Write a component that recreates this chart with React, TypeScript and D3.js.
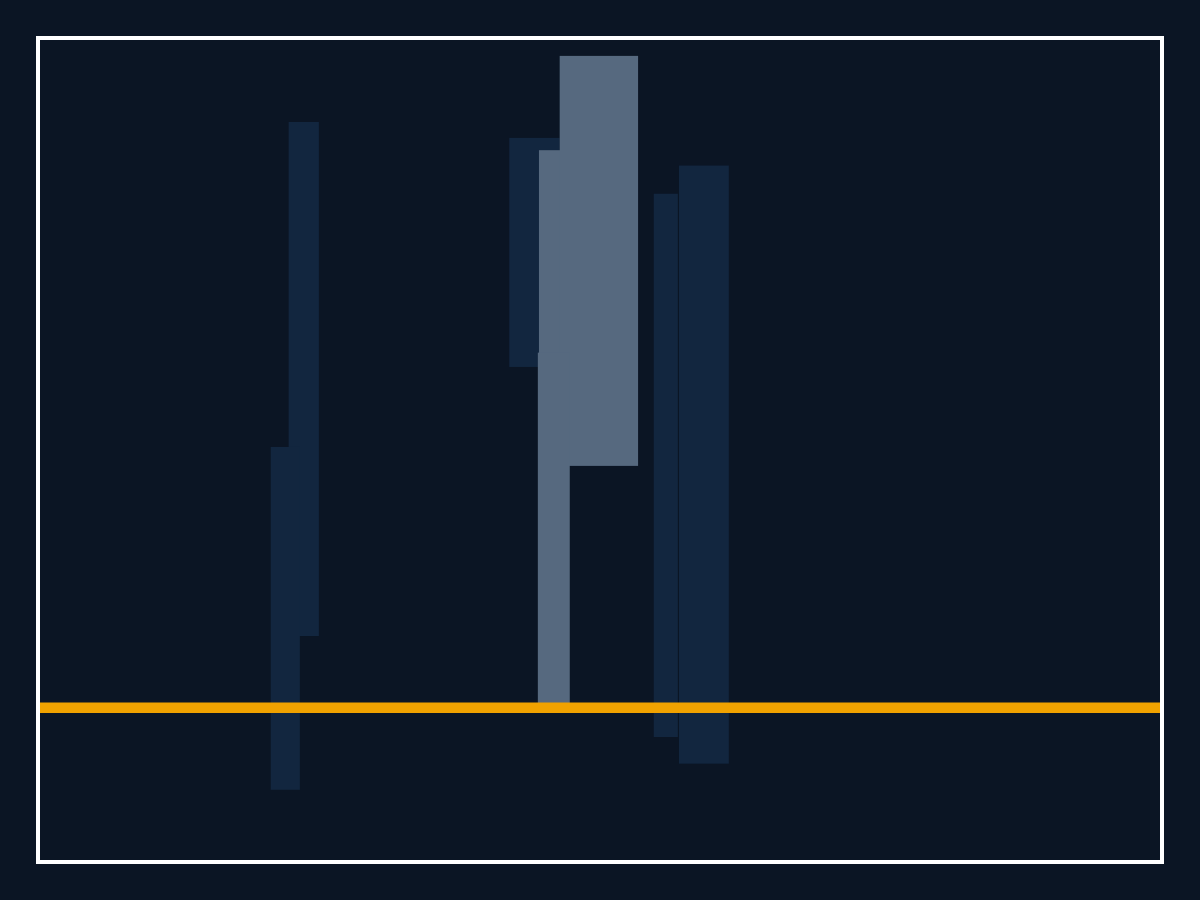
import React, { useEffect, useRef } from 'react';
import * as d3 from 'd3';

// floating range bars: x from/to, value low/high, series
const barIds = ['A', 'B', 'C', 'D', 'E', 'F', 'G', 'H'];
const barSeries = ['base', 'base', 'base', 'highlight', 'highlight', 'highlight', 'base', 'base'];
const xStart = [22.2, 20.6, 41.9, 44.55, 46.4, 44.45, 54.8, 57.05];
const xEnd = [24.9, 23.2, 46.4, 48.0, 53.4, 47.3, 56.95, 61.5];
const lowValues = [13.7, -16.3, 66.2, 50.0, 46.9, 0, -6.0, -11.2];
const highValues = [114.0, 50.6, 110.9, 108.5, 126.9, 69.0, 100.0, 105.5];
const referenceValue = 0;

const App: React.FC = () => {
  const svgRef = useRef<SVGSVGElement | null>(null);

  useEffect(() => {
    document.body.style.margin = '0';
    document.body.style.background = '#0b1524';

    const width = 1200;
    const height = 900;
    const frame = { left: 38, top: 38, right: 1162, bottom: 862 };

    const svg = d3.select(svgRef.current)
      .attr('width', width)
      .attr('height', height);
    svg.selectAll('*').remove();

    svg.append('rect')
      .attr('width', width)
      .attr('height', height)
      .attr('fill', '#0b1524');

    const x = d3.scaleLinear().domain([0, 100]).range([40, 1160]);
    const y = d3.scaleLinear().domain([-30, 130]).range([860, 40]);

    const color = d3.scaleOrdinal<string, string>()
      .domain(['base', 'highlight'])
      .range(['#12263f', '#56697f']);

    const bars = barIds.map((id, i) => ({
      id,
      series: barSeries[i],
      x0: xStart[i],
      x1: xEnd[i],
      lo: lowValues[i],
      hi: highValues[i]
    }));
    // dark bars underneath the grey ones
    const ordered = [...bars].sort((a, b) =>
      (a.series === 'base' ? 0 : 1) - (b.series === 'base' ? 0 : 1));

    svg.append('g')
      .selectAll('rect')
      .data(ordered)
      .enter().append('rect')
      .attr('x', d => x(d.x0))
      .attr('width', d => x(d.x1) - x(d.x0))
      .attr('y', d => y(d.hi))
      .attr('height', d => y(d.lo) - y(d.hi))
      .attr('fill', d => color(d.series));

    svg.append('line')
      .attr('x1', x(0))
      .attr('x2', x(100))
      .attr('y1', y(referenceValue) + 1.5)
      .attr('y2', y(referenceValue) + 1.5)
      .attr('stroke', '#f0a200')
      .attr('stroke-width', 10.5);

    svg.append('rect')
      .attr('x', frame.left)
      .attr('y', frame.top)
      .attr('width', frame.right - frame.left)
      .attr('height', frame.bottom - frame.top)
      .attr('fill', 'none')
      .attr('stroke', '#ffffff')
      .attr('stroke-width', 4);
  }, []);

  return <svg ref={svgRef} style={{ display: 'block' }}></svg>;
};

export default App;
